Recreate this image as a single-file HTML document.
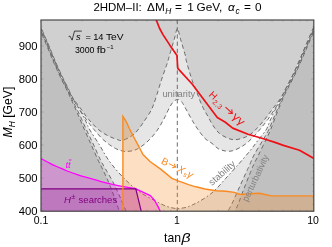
<!DOCTYPE html>
<html><head><meta charset="utf-8"><title>2HDM-II</title>
<style>
html,body{margin:0;padding:0;background:#fff;}
body{width:332px;height:247px;overflow:hidden;font-family:"Liberation Sans",sans-serif;}
svg{display:block;will-change:transform;transform:translateZ(0);}
text{font-family:"Liberation Sans",sans-serif;fill:#000;}
</style></head><body>
<svg width="332" height="247" viewBox="0 0 332 247">
<defs><clipPath id="pc"><rect x="41" y="20" width="272.8" height="191.2"/></clipPath></defs>
<rect x="0" y="0" width="332" height="247" fill="#fff"/>
<g clip-path="url(#pc)">
<rect x="40" y="19" width="276" height="194" fill="#fff"/>
<path d="M40.70,27.70 C41.95,30.58 45.92,39.62 48.20,45.00 C50.48,50.38 52.25,55.00 54.40,60.00 C56.55,65.00 58.87,70.25 61.10,75.00 C63.33,79.75 65.90,84.67 67.80,88.50 C69.70,92.33 70.40,94.33 72.50,98.00 C74.60,101.67 77.98,106.75 80.40,110.50 C82.82,114.25 85.07,117.75 87.00,120.50 C88.93,123.25 90.55,125.17 92.00,127.00 C93.45,128.83 93.95,129.50 95.70,131.50 C97.45,133.50 100.23,136.82 102.50,139.00 C104.77,141.18 107.15,143.03 109.30,144.60 C111.45,146.17 113.62,147.45 115.40,148.40 C117.18,149.35 118.37,149.78 120.00,150.30 C121.63,150.82 123.37,151.38 125.20,151.50 C127.03,151.62 129.05,151.38 131.00,151.00 C132.95,150.62 134.30,150.63 136.90,149.20 C139.50,147.77 143.35,145.35 146.60,142.40 C149.85,139.45 153.55,135.35 156.40,131.50 C159.25,127.65 161.48,123.35 163.70,119.30 C165.92,115.25 168.05,110.15 169.70,107.20 C171.35,104.25 172.30,102.88 173.60,101.60 C174.90,100.32 176.20,99.50 177.50,99.50 C178.80,99.50 180.17,100.32 181.40,101.60 C182.63,102.88 182.72,103.43 184.90,107.20 C187.08,110.97 191.28,119.13 194.50,124.20 C197.72,129.27 201.28,134.40 204.20,137.60 C207.12,140.80 209.68,141.57 212.00,143.40 C214.32,145.23 215.87,147.33 218.10,148.60 C220.33,149.87 222.97,150.65 225.40,151.00 C227.83,151.35 230.07,151.38 232.70,150.70 C235.33,150.02 238.57,148.42 241.20,146.90 C243.83,145.38 246.07,143.72 248.50,141.60 C250.93,139.48 253.63,136.55 255.80,134.20 C257.97,131.85 259.50,129.95 261.50,127.50 C263.50,125.05 265.58,122.58 267.80,119.50 C270.02,116.42 272.57,112.58 274.80,109.00 C277.03,105.42 279.32,101.42 281.20,98.00 C283.08,94.58 284.12,92.33 286.10,88.50 C288.08,84.67 290.80,79.75 293.10,75.00 C295.40,70.25 297.70,65.00 299.90,60.00 C302.10,55.00 303.90,50.58 306.30,45.00 C308.70,39.42 312.97,29.58 314.30,26.50 L315,18 L40,18 Z" fill="#e6e6e6"/>
<path d="M40.20,27.70 C41.45,30.58 45.42,39.62 47.70,45.00 C49.98,50.38 51.75,55.00 53.90,60.00 C56.05,65.00 58.37,70.25 60.60,75.00 C62.83,79.75 65.40,84.67 67.30,88.50 C69.20,92.33 69.92,94.42 72.00,98.00 C74.08,101.58 77.52,106.17 79.80,110.00 C82.08,113.83 84.02,117.67 85.70,121.00 C87.38,124.33 87.60,126.00 89.90,130.00 C92.20,134.00 96.40,140.00 99.50,145.00 C102.60,150.00 104.78,154.83 108.50,160.00 C112.22,165.17 116.77,170.78 121.80,176.00 C126.83,181.22 132.65,186.90 138.70,191.30 C144.75,195.70 153.22,199.82 158.10,202.40 C162.98,204.98 164.82,205.73 168.00,206.80 C171.18,207.87 175.67,208.47 177.20,208.80  C178.67,208.57 183.47,208.05 186.00,207.40 C188.53,206.75 190.15,205.92 192.40,204.90 C194.65,203.88 196.78,202.88 199.50,201.30 C202.22,199.72 205.92,197.45 208.70,195.40 C211.48,193.35 213.35,191.85 216.20,189.00 C219.05,186.15 222.40,182.07 225.80,178.30 C229.20,174.53 232.63,170.90 236.60,166.40 C240.57,161.90 246.00,155.70 249.60,151.30 C253.20,146.90 255.47,143.55 258.20,140.00 C260.93,136.45 264.12,133.00 266.00,130.00 C267.88,127.00 268.08,125.17 269.50,122.00 C270.92,118.83 272.45,115.00 274.50,111.00 C276.55,107.00 279.78,101.75 281.80,98.00 C283.82,94.25 284.63,92.33 286.60,88.50 C288.57,84.67 291.30,79.75 293.60,75.00 C295.90,70.25 298.20,65.00 300.40,60.00 C302.60,55.00 304.40,50.58 306.80,45.00 C309.20,39.42 313.47,29.58 314.80,26.50 L315,29 L315,213 L40,213 Z" fill="#e6e6e6"/>
<path d="M41.10,27.70 C42.35,30.58 46.32,39.62 48.60,45.00 C50.88,50.38 52.65,55.00 54.80,60.00 C56.95,65.00 59.27,70.25 61.50,75.00 C63.73,79.75 66.30,84.67 68.20,88.50 C70.10,92.33 70.77,94.58 72.90,98.00 C75.03,101.42 78.35,105.40 81.00,109.00 C83.65,112.60 85.80,116.10 88.80,119.60 C91.80,123.10 95.68,127.25 99.00,130.00 C102.32,132.75 105.67,134.52 108.70,136.10 C111.73,137.68 114.98,138.78 117.20,139.50 C119.42,140.22 119.87,140.82 122.00,140.40 C124.13,139.98 127.67,138.37 130.00,137.00 C132.33,135.63 134.25,133.95 136.00,132.20 C137.75,130.45 139.00,128.53 140.50,126.50 C142.00,124.47 143.20,122.75 145.00,120.00 C146.80,117.25 149.55,113.50 151.30,110.00 C153.05,106.50 153.80,104.03 155.50,99.00 C157.20,93.97 159.53,85.80 161.50,79.80 C163.47,73.80 165.95,67.13 167.30,63.00 C168.65,58.87 168.38,59.17 169.60,55.00 C170.82,50.83 173.30,42.42 174.60,38.00 C175.90,33.58 176.47,28.50 177.40,28.50 C178.33,28.50 178.90,33.58 180.20,38.00 C181.50,42.42 184.13,51.00 185.20,55.00 C186.27,59.00 185.45,57.80 186.60,62.00 C187.75,66.20 190.58,75.63 192.10,80.20 C193.62,84.77 194.03,85.13 195.70,89.40 C197.37,93.67 200.05,101.28 202.10,105.80 C204.15,110.32 206.18,113.22 208.00,116.50 C209.82,119.78 211.12,122.70 213.00,125.50 C214.88,128.30 216.83,131.18 219.30,133.30 C221.77,135.42 225.17,137.13 227.80,138.20 C230.43,139.27 232.47,139.77 235.10,139.70 C237.73,139.63 241.12,138.65 243.60,137.80 C246.08,136.95 247.88,136.07 250.00,134.60 C252.12,133.13 253.93,131.43 256.30,129.00 C258.67,126.57 261.50,123.33 264.20,120.00 C266.90,116.67 269.73,112.67 272.50,109.00 C275.27,105.33 278.60,101.42 280.80,98.00 C283.00,94.58 283.72,92.33 285.70,88.50 C287.68,84.67 290.40,79.75 292.70,75.00 C295.00,70.25 297.30,65.00 299.50,60.00 C301.70,55.00 303.50,50.58 305.90,45.00 C308.30,39.42 312.57,29.58 313.90,26.50 L315,18 L40,18 Z" fill="#d0d0d0"/>
<path d="M39.60,27.70 C40.85,30.58 44.82,39.62 47.10,45.00 C49.38,50.38 51.15,55.00 53.30,60.00 C55.45,65.00 57.77,70.25 60.00,75.00 C62.23,79.75 64.82,84.67 66.70,88.50 C68.58,92.33 69.28,93.92 71.30,98.00 C73.32,102.08 76.27,107.67 78.80,113.00 C81.33,118.33 84.02,124.67 86.50,130.00 C88.98,135.33 91.37,140.00 93.70,145.00 C96.03,150.00 98.53,156.00 100.50,160.00 C102.47,164.00 103.42,165.33 105.50,169.00 C107.58,172.67 110.58,177.33 113.00,182.00 C115.42,186.67 117.75,192.00 120.00,197.00 C122.25,202.00 125.42,209.50 126.50,212.00 L40,213 L40,30 Z" fill="#d0d0d0"/>
<path d="M315.40,26.50 C314.07,29.58 309.80,39.42 307.40,45.00 C305.00,50.58 303.20,55.00 301.00,60.00 C298.80,65.00 296.50,70.25 294.20,75.00 C291.90,79.75 289.15,84.67 287.20,88.50 C285.25,92.33 284.40,93.92 282.50,98.00 C280.60,102.08 278.12,107.67 275.80,113.00 C273.48,118.33 270.73,125.50 268.60,130.00 C266.47,134.50 265.43,135.83 263.00,140.00 C260.57,144.17 256.23,150.83 254.00,155.00 C251.77,159.17 250.80,162.33 249.60,165.00 C248.40,167.67 248.48,167.33 246.80,171.00 C245.12,174.67 241.92,181.67 239.50,187.00 C237.08,192.33 234.30,198.83 232.30,203.00 C230.30,207.17 228.30,210.50 227.50,212.00 L315,213 L315,30 Z" fill="#d0d0d0"/>
<path d="M39.00,27.70 C40.25,30.58 44.22,39.62 46.50,45.00 C48.78,50.38 50.55,55.00 52.70,60.00 C54.85,65.00 57.17,70.25 59.40,75.00 C61.63,79.75 64.23,84.67 66.10,88.50 C67.97,92.33 68.73,93.92 70.60,98.00 C72.47,102.08 74.97,107.67 77.30,113.00 C79.63,118.33 82.27,124.67 84.60,130.00 C86.93,135.33 89.07,140.00 91.30,145.00 C93.53,150.00 96.13,156.00 98.00,160.00 C99.87,164.00 100.75,165.33 102.50,169.00 C104.25,172.67 106.53,177.33 108.50,182.00 C110.47,186.67 112.45,192.00 114.30,197.00 C116.15,202.00 118.72,209.50 119.60,212.00 L40,213 L40,30 Z" fill="#c0c0c0"/>
<path d="M316.00,26.50 C314.67,29.58 310.40,39.42 308.00,45.00 C305.60,50.58 303.80,55.00 301.60,60.00 C299.40,65.00 297.10,70.25 294.80,75.00 C292.50,79.75 289.73,84.67 287.80,88.50 C285.87,92.33 285.00,93.92 283.20,98.00 C281.40,102.08 279.12,107.67 277.00,113.00 C274.88,118.33 272.37,125.50 270.50,130.00 C268.63,134.50 267.80,135.83 265.80,140.00 C263.80,144.17 260.55,150.83 258.50,155.00 C256.45,159.17 254.75,162.33 253.50,165.00 C252.25,167.67 252.48,167.33 251.00,171.00 C249.52,174.67 246.67,181.67 244.60,187.00 C242.53,192.33 240.25,198.83 238.60,203.00 C236.95,207.17 235.35,210.50 234.70,212.00 L315,213 L315,30 Z" fill="#c0c0c0"/>
<path d="M39.00,27.70 C40.25,30.58 44.22,39.62 46.50,45.00 C48.78,50.38 50.55,55.00 52.70,60.00 C54.85,65.00 57.17,70.25 59.40,75.00 C61.63,79.75 64.23,84.67 66.10,88.50 C67.97,92.33 68.73,93.92 70.60,98.00 C72.47,102.08 74.97,107.67 77.30,113.00 C79.63,118.33 82.27,124.67 84.60,130.00 C86.93,135.33 89.07,140.00 91.30,145.00 C93.53,150.00 96.13,156.00 98.00,160.00 C99.87,164.00 100.75,165.33 102.50,169.00 C104.25,172.67 106.53,177.33 108.50,182.00 C110.47,186.67 112.45,192.00 114.30,197.00 C116.15,202.00 118.72,209.50 119.60,212.00" stroke="#6c6c6c" stroke-width="1" fill="none" stroke-dasharray="4.2,3" stroke-dashoffset="0"/>
<path d="M316.00,26.50 C314.67,29.58 310.40,39.42 308.00,45.00 C305.60,50.58 303.80,55.00 301.60,60.00 C299.40,65.00 297.10,70.25 294.80,75.00 C292.50,79.75 289.73,84.67 287.80,88.50 C285.87,92.33 285.00,93.92 283.20,98.00 C281.40,102.08 279.12,107.67 277.00,113.00 C274.88,118.33 272.37,125.50 270.50,130.00 C268.63,134.50 267.80,135.83 265.80,140.00 C263.80,144.17 260.55,150.83 258.50,155.00 C256.45,159.17 254.75,162.33 253.50,165.00 C252.25,167.67 252.48,167.33 251.00,171.00 C249.52,174.67 246.67,181.67 244.60,187.00 C242.53,192.33 240.25,198.83 238.60,203.00 C236.95,207.17 235.35,210.50 234.70,212.00" stroke="#6c6c6c" stroke-width="1" fill="none" stroke-dasharray="4.2,3" stroke-dashoffset="0"/>
<path d="M39.60,27.70 C40.85,30.58 44.82,39.62 47.10,45.00 C49.38,50.38 51.15,55.00 53.30,60.00 C55.45,65.00 57.77,70.25 60.00,75.00 C62.23,79.75 64.82,84.67 66.70,88.50 C68.58,92.33 69.28,93.92 71.30,98.00 C73.32,102.08 76.27,107.67 78.80,113.00 C81.33,118.33 84.02,124.67 86.50,130.00 C88.98,135.33 91.37,140.00 93.70,145.00 C96.03,150.00 98.53,156.00 100.50,160.00 C102.47,164.00 103.42,165.33 105.50,169.00 C107.58,172.67 110.58,177.33 113.00,182.00 C115.42,186.67 117.75,192.00 120.00,197.00 C122.25,202.00 125.42,209.50 126.50,212.00" stroke="#6c6c6c" stroke-width="1" fill="none" stroke-dasharray="4.2,3" stroke-dashoffset="2.6"/>
<path d="M315.40,26.50 C314.07,29.58 309.80,39.42 307.40,45.00 C305.00,50.58 303.20,55.00 301.00,60.00 C298.80,65.00 296.50,70.25 294.20,75.00 C291.90,79.75 289.15,84.67 287.20,88.50 C285.25,92.33 284.40,93.92 282.50,98.00 C280.60,102.08 278.12,107.67 275.80,113.00 C273.48,118.33 270.73,125.50 268.60,130.00 C266.47,134.50 265.43,135.83 263.00,140.00 C260.57,144.17 256.23,150.83 254.00,155.00 C251.77,159.17 250.80,162.33 249.60,165.00 C248.40,167.67 248.48,167.33 246.80,171.00 C245.12,174.67 241.92,181.67 239.50,187.00 C237.08,192.33 234.30,198.83 232.30,203.00 C230.30,207.17 228.30,210.50 227.50,212.00" stroke="#6c6c6c" stroke-width="1" fill="none" stroke-dasharray="4.2,3" stroke-dashoffset="2.6"/>
<path d="M41.10,27.70 C42.35,30.58 46.32,39.62 48.60,45.00 C50.88,50.38 52.65,55.00 54.80,60.00 C56.95,65.00 59.27,70.25 61.50,75.00 C63.73,79.75 66.30,84.67 68.20,88.50 C70.10,92.33 70.77,94.58 72.90,98.00 C75.03,101.42 78.35,105.40 81.00,109.00 C83.65,112.60 85.80,116.10 88.80,119.60 C91.80,123.10 95.68,127.25 99.00,130.00 C102.32,132.75 105.67,134.52 108.70,136.10 C111.73,137.68 114.98,138.78 117.20,139.50 C119.42,140.22 119.87,140.82 122.00,140.40 C124.13,139.98 127.67,138.37 130.00,137.00 C132.33,135.63 134.25,133.95 136.00,132.20 C137.75,130.45 139.00,128.53 140.50,126.50 C142.00,124.47 143.20,122.75 145.00,120.00 C146.80,117.25 149.55,113.50 151.30,110.00 C153.05,106.50 153.80,104.03 155.50,99.00 C157.20,93.97 159.53,85.80 161.50,79.80 C163.47,73.80 165.95,67.13 167.30,63.00 C168.65,58.87 168.38,59.17 169.60,55.00 C170.82,50.83 173.30,42.42 174.60,38.00 C175.90,33.58 176.47,28.50 177.40,28.50 C178.33,28.50 178.90,33.58 180.20,38.00 C181.50,42.42 184.13,51.00 185.20,55.00 C186.27,59.00 185.45,57.80 186.60,62.00 C187.75,66.20 190.58,75.63 192.10,80.20 C193.62,84.77 194.03,85.13 195.70,89.40 C197.37,93.67 200.05,101.28 202.10,105.80 C204.15,110.32 206.18,113.22 208.00,116.50 C209.82,119.78 211.12,122.70 213.00,125.50 C214.88,128.30 216.83,131.18 219.30,133.30 C221.77,135.42 225.17,137.13 227.80,138.20 C230.43,139.27 232.47,139.77 235.10,139.70 C237.73,139.63 241.12,138.65 243.60,137.80 C246.08,136.95 247.88,136.07 250.00,134.60 C252.12,133.13 253.93,131.43 256.30,129.00 C258.67,126.57 261.50,123.33 264.20,120.00 C266.90,116.67 269.73,112.67 272.50,109.00 C275.27,105.33 278.60,101.42 280.80,98.00 C283.00,94.58 283.72,92.33 285.70,88.50 C287.68,84.67 290.40,79.75 292.70,75.00 C295.00,70.25 297.30,65.00 299.50,60.00 C301.70,55.00 303.50,50.58 305.90,45.00 C308.30,39.42 312.57,29.58 313.90,26.50" stroke="#6c6c6c" stroke-width="1" fill="none" stroke-dasharray="4.2,3" stroke-dashoffset="5"/>
<path d="M40.70,27.70 C41.95,30.58 45.92,39.62 48.20,45.00 C50.48,50.38 52.25,55.00 54.40,60.00 C56.55,65.00 58.87,70.25 61.10,75.00 C63.33,79.75 65.90,84.67 67.80,88.50 C69.70,92.33 70.40,94.33 72.50,98.00 C74.60,101.67 77.98,106.75 80.40,110.50 C82.82,114.25 85.07,117.75 87.00,120.50 C88.93,123.25 90.55,125.17 92.00,127.00 C93.45,128.83 93.95,129.50 95.70,131.50 C97.45,133.50 100.23,136.82 102.50,139.00 C104.77,141.18 107.15,143.03 109.30,144.60 C111.45,146.17 113.62,147.45 115.40,148.40 C117.18,149.35 118.37,149.78 120.00,150.30 C121.63,150.82 123.37,151.38 125.20,151.50 C127.03,151.62 129.05,151.38 131.00,151.00 C132.95,150.62 134.30,150.63 136.90,149.20 C139.50,147.77 143.35,145.35 146.60,142.40 C149.85,139.45 153.55,135.35 156.40,131.50 C159.25,127.65 161.48,123.35 163.70,119.30 C165.92,115.25 168.05,110.15 169.70,107.20 C171.35,104.25 172.30,102.88 173.60,101.60 C174.90,100.32 176.20,99.50 177.50,99.50 C178.80,99.50 180.17,100.32 181.40,101.60 C182.63,102.88 182.72,103.43 184.90,107.20 C187.08,110.97 191.28,119.13 194.50,124.20 C197.72,129.27 201.28,134.40 204.20,137.60 C207.12,140.80 209.68,141.57 212.00,143.40 C214.32,145.23 215.87,147.33 218.10,148.60 C220.33,149.87 222.97,150.65 225.40,151.00 C227.83,151.35 230.07,151.38 232.70,150.70 C235.33,150.02 238.57,148.42 241.20,146.90 C243.83,145.38 246.07,143.72 248.50,141.60 C250.93,139.48 253.63,136.55 255.80,134.20 C257.97,131.85 259.50,129.95 261.50,127.50 C263.50,125.05 265.58,122.58 267.80,119.50 C270.02,116.42 272.57,112.58 274.80,109.00 C277.03,105.42 279.32,101.42 281.20,98.00 C283.08,94.58 284.12,92.33 286.10,88.50 C288.08,84.67 290.80,79.75 293.10,75.00 C295.40,70.25 297.70,65.00 299.90,60.00 C302.10,55.00 303.90,50.58 306.30,45.00 C308.70,39.42 312.97,29.58 314.30,26.50" stroke="#6c6c6c" stroke-width="1" fill="none" stroke-dasharray="4.2,3" stroke-dashoffset="1.3"/>
<path d="M40.20,27.70 C41.45,30.58 45.42,39.62 47.70,45.00 C49.98,50.38 51.75,55.00 53.90,60.00 C56.05,65.00 58.37,70.25 60.60,75.00 C62.83,79.75 65.40,84.67 67.30,88.50 C69.20,92.33 69.92,94.42 72.00,98.00 C74.08,101.58 77.52,106.17 79.80,110.00 C82.08,113.83 84.02,117.67 85.70,121.00 C87.38,124.33 87.60,126.00 89.90,130.00 C92.20,134.00 96.40,140.00 99.50,145.00 C102.60,150.00 104.78,154.83 108.50,160.00 C112.22,165.17 116.77,170.78 121.80,176.00 C126.83,181.22 132.65,186.90 138.70,191.30 C144.75,195.70 153.22,199.82 158.10,202.40 C162.98,204.98 164.82,205.73 168.00,206.80 C171.18,207.87 175.67,208.47 177.20,208.80  C178.67,208.57 183.47,208.05 186.00,207.40 C188.53,206.75 190.15,205.92 192.40,204.90 C194.65,203.88 196.78,202.88 199.50,201.30 C202.22,199.72 205.92,197.45 208.70,195.40 C211.48,193.35 213.35,191.85 216.20,189.00 C219.05,186.15 222.40,182.07 225.80,178.30 C229.20,174.53 232.63,170.90 236.60,166.40 C240.57,161.90 246.00,155.70 249.60,151.30 C253.20,146.90 255.47,143.55 258.20,140.00 C260.93,136.45 264.12,133.00 266.00,130.00 C267.88,127.00 268.08,125.17 269.50,122.00 C270.92,118.83 272.45,115.00 274.50,111.00 C276.55,107.00 279.78,101.75 281.80,98.00 C283.82,94.25 284.63,92.33 286.60,88.50 C288.57,84.67 291.30,79.75 293.60,75.00 C295.90,70.25 298.20,65.00 300.40,60.00 C302.60,55.00 304.40,50.58 306.80,45.00 C309.20,39.42 313.47,29.58 314.80,26.50" stroke="#6c6c6c" stroke-width="1" fill="none" stroke-dasharray="4.2,2.4,1.6,2.4" stroke-dashoffset="3.8"/>
<path d="M177.3,20 V212" stroke="#6c6c6c" stroke-width="1" fill="none" stroke-dasharray="4.2,3"/>
<path d="M40.00,158.20 C41.67,159.05 47.00,161.83 50.00,163.30 C53.00,164.77 55.13,165.72 58.00,167.00 C60.87,168.28 63.85,169.70 67.20,171.00 C70.55,172.30 74.30,173.57 78.10,174.80 C81.90,176.03 86.15,177.27 90.00,178.40 C93.85,179.53 96.53,180.40 101.20,181.60 C105.87,182.80 112.22,184.40 118.00,185.60 C123.78,186.80 132.92,188.27 135.90,188.80 L150.30,195.60 L154.50,200.20 L158.00,206.60 L160.60,212.00 L40,213 Z" fill="#ff00ff" fill-opacity="0.21"/>
<path d="M40.00,188.80 L135.80,188.80 L141.40,212.00 L40,213 Z" fill="#800080" fill-opacity="0.2"/>
<path d="M122.90,212.00 L122.90,116.30 L126.20,121.50 L129.60,129.00 L134.50,138.50 L139.30,147.30 L143.00,154.50 L150.00,161.50 L161.00,169.40 L171.90,178.30 L177.50,180.60 L189.20,184.80 L195.80,186.80 L205.00,189.00 L216.20,190.70 L226.00,191.20 L234.40,192.40 L240.00,194.50 L247.00,194.00 L259.30,193.20 L265.00,194.50 L271.50,195.90 L316.00,195.90 L316,196 L316,213 Z" fill="#f98a20" fill-opacity="0.27"/>
<path d="M40.00,158.20 C41.67,159.05 47.00,161.83 50.00,163.30 C53.00,164.77 55.13,165.72 58.00,167.00 C60.87,168.28 63.85,169.70 67.20,171.00 C70.55,172.30 74.30,173.57 78.10,174.80 C81.90,176.03 86.15,177.27 90.00,178.40 C93.85,179.53 96.53,180.40 101.20,181.60 C105.87,182.80 112.22,184.40 118.00,185.60 C123.78,186.80 132.92,188.27 135.90,188.80 L150.30,195.60 L154.50,200.20 L158.00,206.60 L160.60,212.00" fill="none" stroke="#ff00ff" stroke-width="1.3" stroke-linejoin="round"/>
<path d="M40.00,188.80 L135.80,188.80 L141.40,212.00" fill="none" stroke="#800080" stroke-width="1.2"/>
<path d="M122.90,212.00 L122.90,116.30 L126.20,121.50 L129.60,129.00 L134.50,138.50 L139.30,147.30 L143.00,154.50 L150.00,161.50 L161.00,169.40 L171.90,178.30 L177.50,180.60 L189.20,184.80 L195.80,186.80 L205.00,189.00 L216.20,190.70 L226.00,191.20 L234.40,192.40 L240.00,194.50 L247.00,194.00 L259.30,193.20 L265.00,194.50 L271.50,195.90 L316.00,195.90" fill="none" stroke="#f98a20" stroke-width="1.4" stroke-linejoin="miter"/>
<path d="M155.90,19.00 L159.40,28.00 L162.80,34.40 L170.00,45.40 L177.00,55.40 L177.40,63.00 L177.80,68.40 L192.10,84.00 L199.60,94.00 L217.30,117.50 L225.00,122.00 L232.70,128.10 L248.10,134.20 L263.50,138.80 L275.00,142.40 L283.40,145.40 L299.50,150.20 L315.00,159.10" fill="none" stroke="#ee1016" stroke-width="1.7" stroke-linejoin="round"/>
</g>
<path d="M41.00,211.00 h2.70 M313.80,211.00 h-2.70 M41.00,204.40 h1.50 M313.80,204.40 h-1.50 M41.00,197.80 h1.50 M313.80,197.80 h-1.50 M41.00,191.20 h1.50 M313.80,191.20 h-1.50 M41.00,184.60 h1.50 M313.80,184.60 h-1.50 M41.00,178.00 h2.70 M313.80,178.00 h-2.70 M41.00,171.40 h1.50 M313.80,171.40 h-1.50 M41.00,164.80 h1.50 M313.80,164.80 h-1.50 M41.00,158.20 h1.50 M313.80,158.20 h-1.50 M41.00,151.60 h1.50 M313.80,151.60 h-1.50 M41.00,145.00 h2.70 M313.80,145.00 h-2.70 M41.00,138.40 h1.50 M313.80,138.40 h-1.50 M41.00,131.80 h1.50 M313.80,131.80 h-1.50 M41.00,125.20 h1.50 M313.80,125.20 h-1.50 M41.00,118.60 h1.50 M313.80,118.60 h-1.50 M41.00,112.00 h2.70 M313.80,112.00 h-2.70 M41.00,105.40 h1.50 M313.80,105.40 h-1.50 M41.00,98.80 h1.50 M313.80,98.80 h-1.50 M41.00,92.20 h1.50 M313.80,92.20 h-1.50 M41.00,85.60 h1.50 M313.80,85.60 h-1.50 M41.00,79.00 h2.70 M313.80,79.00 h-2.70 M41.00,72.40 h1.50 M313.80,72.40 h-1.50 M41.00,65.80 h1.50 M313.80,65.80 h-1.50 M41.00,59.20 h1.50 M313.80,59.20 h-1.50 M41.00,52.60 h1.50 M313.80,52.60 h-1.50 M41.00,46.00 h2.70 M313.80,46.00 h-2.70 M41.00,39.40 h1.50 M313.80,39.40 h-1.50 M41.00,32.80 h1.50 M313.80,32.80 h-1.50 M41.00,26.20 h1.50 M313.80,26.20 h-1.50 M41.00,211.20 v-2.70 M41.00,20.00 v2.70 M81.94,211.20 v-1.50 M81.94,20.00 v1.50 M105.89,211.20 v-1.50 M105.89,20.00 v1.50 M122.88,211.20 v-1.50 M122.88,20.00 v1.50 M136.06,211.20 v-1.50 M136.06,20.00 v1.50 M146.83,211.20 v-1.50 M146.83,20.00 v1.50 M155.93,211.20 v-1.50 M155.93,20.00 v1.50 M163.82,211.20 v-1.50 M163.82,20.00 v1.50 M170.78,211.20 v-1.50 M170.78,20.00 v1.50 M177.00,211.20 v-2.70 M177.00,20.00 v2.70 M217.94,211.20 v-1.50 M217.94,20.00 v1.50 M241.89,211.20 v-1.50 M241.89,20.00 v1.50 M258.88,211.20 v-1.50 M258.88,20.00 v1.50 M272.06,211.20 v-1.50 M272.06,20.00 v1.50 M282.83,211.20 v-1.50 M282.83,20.00 v1.50 M291.93,211.20 v-1.50 M291.93,20.00 v1.50 M299.82,211.20 v-1.50 M299.82,20.00 v1.50 M306.78,211.20 v-1.50 M306.78,20.00 v1.50" stroke="#707070" stroke-width="0.5" fill="none" opacity="0.75"/>
<rect x="41.0" y="20.0" width="272.8" height="191.2" fill="none" stroke="#484848" stroke-width="1.2"/>
<g font-size="11.8">
<text x="93.4" y="10.8" textLength="48.4" lengthAdjust="spacingAndGlyphs">2HDM–II:</text>
<text x="147" y="10.8">ΔM</text>
<text x="165.2" y="13.6" font-size="8.4" font-style="italic">H</text>
<text x="175" y="10.8">=</text>
<text x="187.3" y="10.8">1</text>
<text x="196.6" y="10.8">GeV,</text>
<text x="228" y="10.8" font-style="italic">α</text>
<text x="235.6" y="13.6" font-size="8.4" font-style="italic">c</text>
<text x="244" y="10.8">=</text>
<text x="255" y="10.8">0</text>
</g>
<g font-size="11.3" text-anchor="end">
<text x="37.6" y="50.1">900</text>
<text x="37.6" y="83.1">800</text>
<text x="37.6" y="116.1">700</text>
<text x="37.6" y="149.1">600</text>
<text x="37.6" y="182.1">500</text>
<text x="37.6" y="215.1">400</text>
</g>
<g font-size="10.5" text-anchor="middle">
<text x="41" y="224">0.1</text>
<text x="176.8" y="224">1</text>
<text x="313" y="224">10</text>
</g>
<text x="164" y="242" font-size="12.2">tan</text>
<text x="181.6" y="242" font-size="13.5" font-style="italic" textLength="9" lengthAdjust="spacingAndGlyphs">β</text>
<text transform="translate(12.2,112) rotate(-90)" font-size="12.2" text-anchor="middle"><tspan font-style="italic">M</tspan><tspan font-style="italic" font-size="8.4" dy="2.6">H</tspan><tspan dy="-2.6"> [GeV]</tspan></text>
<!-- in-plot annotation -->
<g font-size="9.3">
<path d="M68.6,36.6 L69.9,36 L72.1,40.1 L74.5,31.1 L81.8,31.1" fill="none" stroke="#000" stroke-width="0.7"/>
<text x="76" y="39.6" font-style="italic">s</text>
<text x="85.4" y="39.6">=</text>
<text x="93.2" y="39.6">14</text>
<text x="106" y="39.6" textLength="17.6" lengthAdjust="spacingAndGlyphs">TeV</text>
<text x="74.9" y="53.1" textLength="19.6" lengthAdjust="spacingAndGlyphs">3000</text>
<text x="96.8" y="53.1" textLength="9.2" lengthAdjust="spacingAndGlyphs">fb</text>
<text x="106.8" y="49" font-size="6">−1</text>
</g>
<!-- curve labels -->
<text x="162.4" y="97" font-size="9.4" style="fill:#808080">unitarity</text>
<text transform="translate(212.1,185.9) rotate(-41)" font-size="9.6" style="fill:#808080">stability</text>
<text transform="translate(247.6,202.3) rotate(-65)" font-size="9.3" style="fill:#808080" textLength="50.6" lengthAdjust="spacingAndGlyphs">perturbativity</text>
<g transform="translate(208.2,95.6) rotate(43)" style="fill:#ee1016">
<text x="0" y="0" font-size="10" style="fill:#ee1016">H</text>
<text x="7.6" y="2.6" font-size="7" style="fill:#ee1016" textLength="10.4" lengthAdjust="spacing">2,3</text>
<path d="M20.5,-3.4 H29.4 M26.6,-6 L29.8,-3.4 L26.6,-0.8" fill="none" stroke="#ee1016" stroke-width="1"/>
<text x="31.8" y="0" font-size="11" style="fill:#ee1016" textLength="12.8" lengthAdjust="spacingAndGlyphs">γγ</text>
</g>
<g transform="translate(160.6,163.2) rotate(27)">
<text x="0" y="0" font-size="10" style="fill:#f98a20">B</text>
<path d="M7.6,-3.4 H14.8 M12.2,-5.8 L15.2,-3.4 L12.2,-1" fill="none" stroke="#f98a20" stroke-width="0.95"/>
<text x="17.8" y="0" font-size="10.5" font-style="italic" style="fill:#f98a20">X</text>
<text x="25.4" y="1.4" font-size="7" font-style="italic" style="fill:#f98a20">s</text>
<text x="29" y="0" font-size="10.2" font-style="italic" style="fill:#f98a20">γ</text>
</g>
<text x="65.4" y="167.8" font-size="9.4" font-style="italic" style="fill:#ff00ff">tt</text>
<path d="M68.8,160 h2.7" stroke="#ff00ff" stroke-width="0.9"/>
<text x="64" y="203.2" font-size="9.6" font-style="italic" style="fill:#800080">H</text>
<text x="71.2" y="199" font-size="7.6" style="fill:#800080">±</text>
<text x="78.6" y="203.2" font-size="9.5" style="fill:#800080">searches</text>

</svg>
</body></html>
